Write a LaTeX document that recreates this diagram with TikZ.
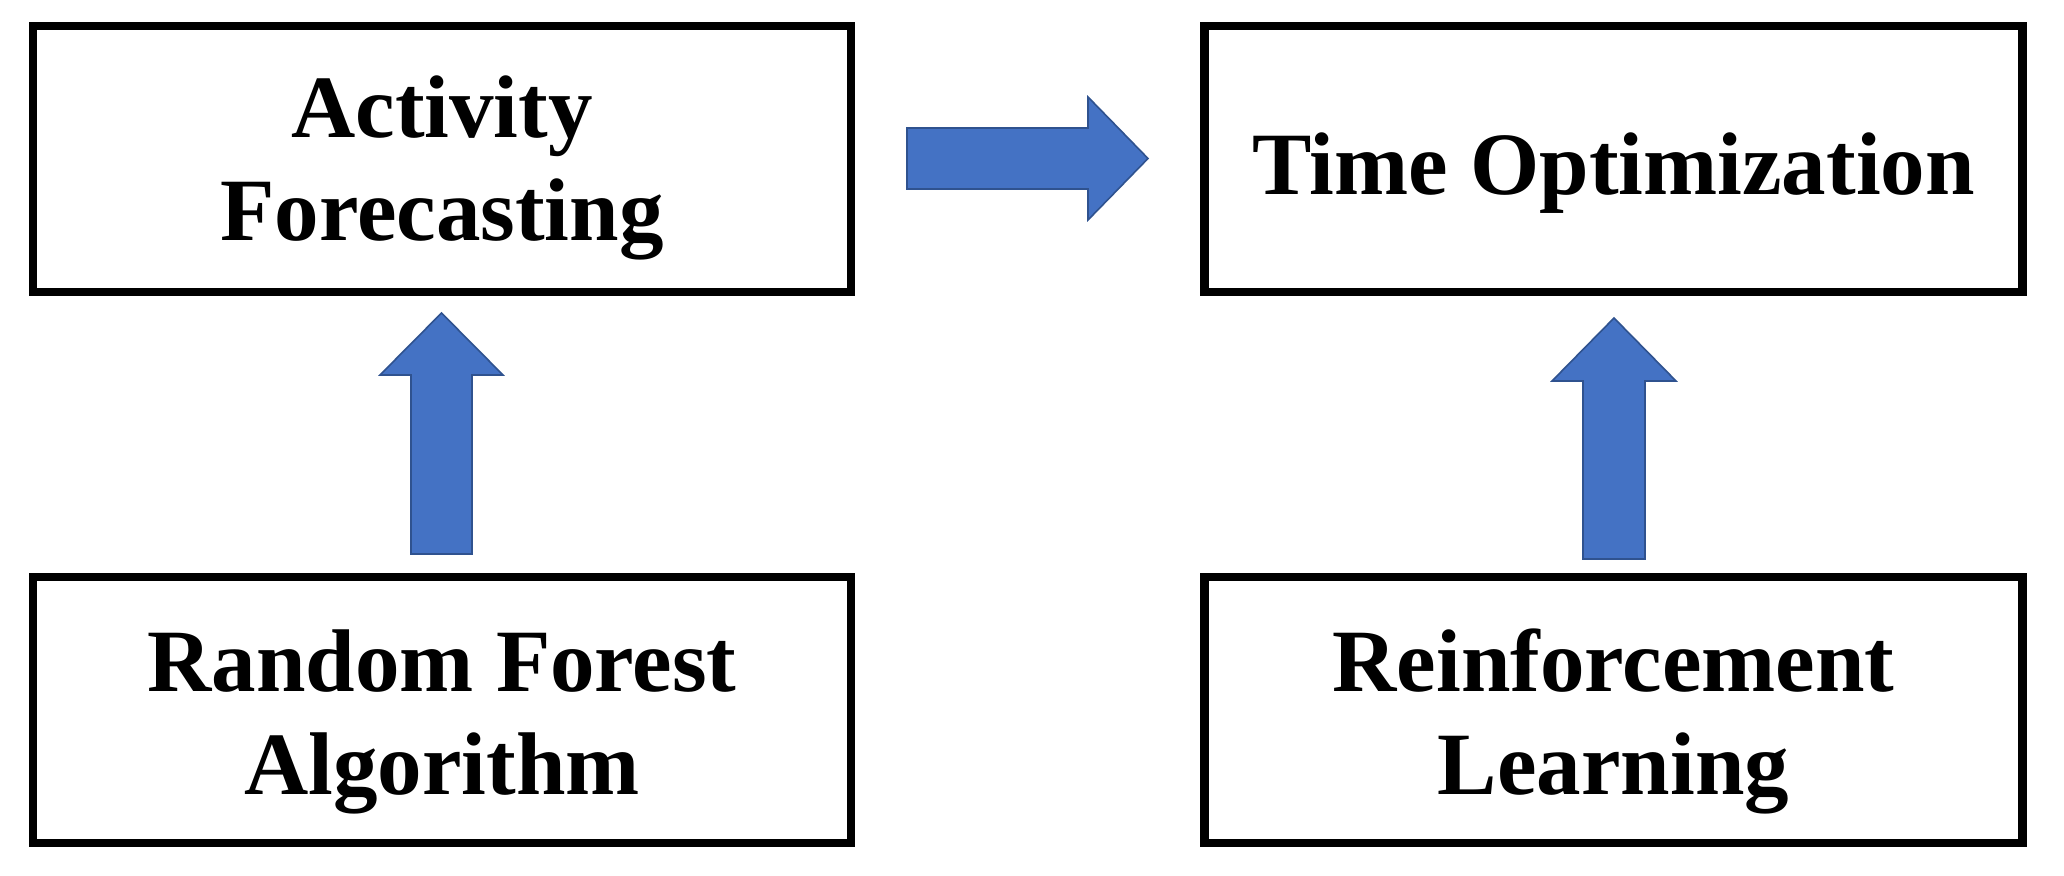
\documentclass[tikz,border=0pt]{standalone}
\usepackage{fontspec}
\setmainfont{Liberation Serif}
\definecolor{arrowblue}{HTML}{4472C4}
\definecolor{arrowedge}{HTML}{2F528F}
\begin{document}
\begin{tikzpicture}[x=0.5pt,y=-0.5pt,
  frame/.style={draw=black,line width=4.25pt,fill=white,minimum width=409pt,minimum height=133pt,inner sep=0pt},
  label text/.style={align=center,inner sep=0pt,font=\bfseries\fontsize{44.5}{51.5}\selectfont},
  blockarrow/.style={fill=arrowblue,draw=arrowedge,line width=0.8pt,line join=miter}]
\useasboundingbox (0,0) rectangle (2064,876);
\fill[white] (0,0) rectangle (2064,876);
\node[frame] (afbox) at (442,159) {};
\node[frame] (tobox) at (1613.5,159) {};
\node[frame] (rfbox) at (442,710) {};
\node[frame] (rlbox) at (1613.5,710) {};
\node[label text] (af) at ([yshift=-4.5pt]afbox.center) {Activity\\Forecasting};
\node[label text] (to) at ([yshift=-7pt]tobox.center) {Time Optimization};
\node[label text] (rf) at ([yshift=-6pt]rfbox.center) {Random Forest\\Algorithm};
\node[label text] (rl) at ([yshift=-5.5pt]rlbox.center) {Reinforcement\\Learning};
% right block arrow
\draw[blockarrow] (907,128) -- (1088,128) -- (1088,97) -- (1148,158.5) -- (1088,220) -- (1088,189) -- (907,189) -- cycle;
% up block arrow 1
\draw[blockarrow] (411,554) -- (411,375) -- (380,375) -- (441.5,313) -- (503,375) -- (472,375) -- (472,554) -- cycle;
% up block arrow 2
\draw[blockarrow] (1583,559) -- (1583,381) -- (1552,381) -- (1614,318) -- (1676,381) -- (1645,381) -- (1645,559) -- cycle;
\end{tikzpicture}
\end{document}
